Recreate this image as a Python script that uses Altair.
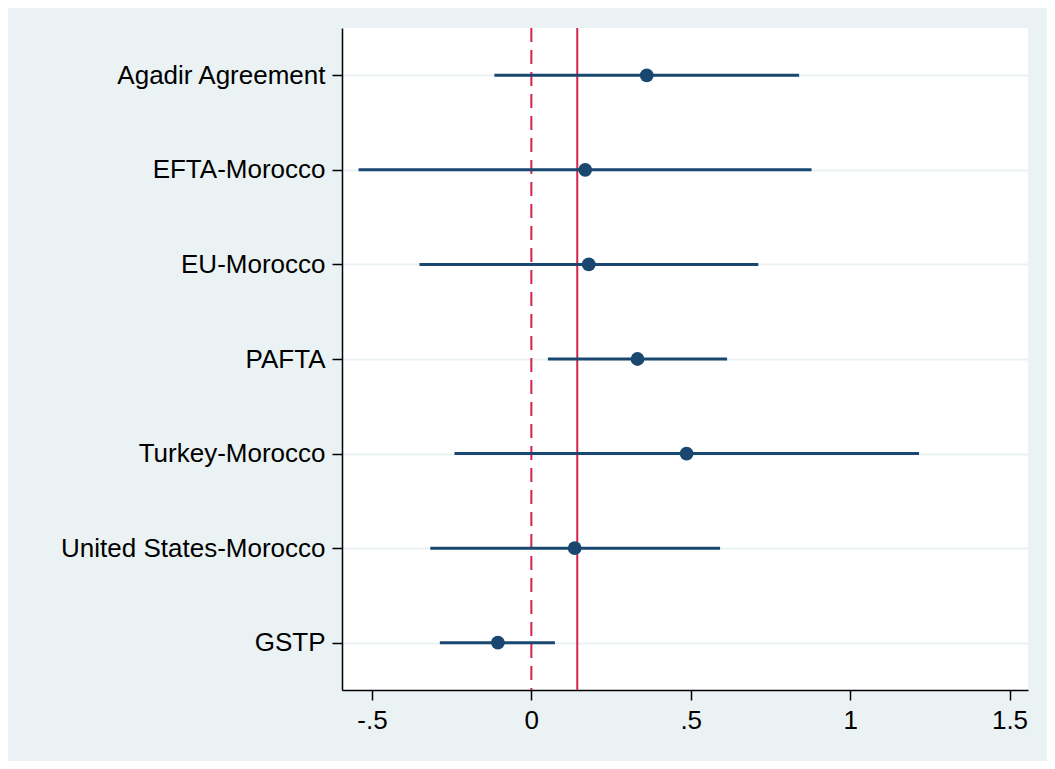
import altair as alt
import pandas as pd

names = ["Agadir Agreement", "EFTA-Morocco", "EU-Morocco", "PAFTA",
         "Turkey-Morocco", "United States-Morocco", "GSTP"]
coef = [0.362, 0.169, 0.180, 0.333, 0.487, 0.136, -0.105]
lo = [-0.116, -0.542, -0.351, 0.052, -0.241, -0.317, -0.287]
hi = [0.840, 0.879, 0.712, 0.614, 1.216, 0.592, 0.074]
ref_zero = 0.0
ref_mean = 0.144
tick_values = [-0.5, 0, 0.5, 1, 1.5]
tick_labels = ["-.5", "0", ".5", "1", "1.5"]

df = pd.DataFrame({"name": names, "coef": coef, "lo": lo, "hi": hi})

label_expr = " : ".join(
    f"datum.value == {v} ? '{t}'" for v, t in zip(tick_values, tick_labels)
) + " : ''"

xscale = alt.Scale(domain=[-0.594, 1.558], nice=False, zero=False)
yscale = alt.Scale(type="point", padding=0.5)

navy = "#1A476F"
red = "#D5234E"
font = "Liberation Sans"

base = alt.Chart(df)

zero_line = alt.Chart(pd.DataFrame({"v": [ref_zero]})).mark_rule(
    color=red, strokeWidth=2, strokeDash=[14, 8]
).encode(x=alt.X("v:Q", scale=xscale))

mean_line = alt.Chart(pd.DataFrame({"v": [ref_mean]})).mark_rule(
    color=red, strokeWidth=2
).encode(x=alt.X("v:Q", scale=xscale))

ci = base.mark_rule(color=navy, strokeWidth=3).encode(
    y=alt.Y("name:N", sort=names, scale=yscale,
            axis=alt.Axis(title=None, grid=True, gridColor="#EAF2F3", gridWidth=2,
                          labelFont=font, labelFontSize=26, labelColor="black",
                          labelLimit=0,
                          tickColor="black", tickSize=10, tickWidth=1.5,
                          domainColor="black", domainWidth=1.5, labelPadding=7)),
    x=alt.X("lo:Q", scale=xscale,
            axis=alt.Axis(title=None, values=tick_values, labelExpr=label_expr,
                          grid=False, labelFont=font, labelFontSize=26,
                          labelColor="black", tickColor="black", tickSize=10,
                          tickWidth=1.5, domainColor="black", domainWidth=1.5,
                          labelPadding=7)),
    x2="hi:Q",
)

pts = base.mark_circle(color=navy, size=190, opacity=1).encode(
    y=alt.Y("name:N", sort=names, scale=yscale),
    x=alt.X("coef:Q", scale=xscale),
)

chart = alt.layer(zero_line, mean_line, ci, pts).properties(
    width=686, height=662,
    background="#EAF2F3",
    padding={"left": 334, "top": 20, "right": 19, "bottom": 71},
    autosize=alt.AutoSizeParams(type="none"),
).configure_view(fill="white", stroke=None)

chart.save("out.html", embed_options={"renderer": "svg", "actions": False})
